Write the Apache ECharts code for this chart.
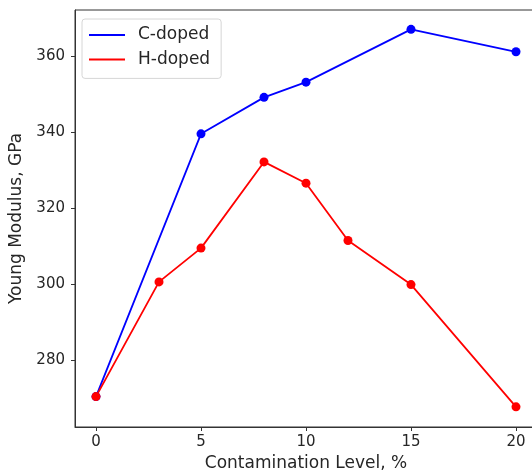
<!DOCTYPE html>
<html>
<head>
<meta charset="utf-8">
<script src="https://cdn.jsdelivr.net/npm/echarts@6/dist/echarts.min.js"></script>
<style>
html, body { margin: 0; padding: 0; background: #fff; }
#chart { width: 532px; height: 473px; }
</style>
</head>
<body>
<div id="chart"></div>
<script>
var xTicks = [0, 5, 10, 15, 20];
var yTicks = [280, 300, 320, 340, 360];
var cLevels = [0, 5, 8, 10, 15, 20];
var cValues = [270.3, 339.5, 349.1, 353.1, 367.0, 361.1];
var hLevels = [0, 3, 5, 8, 10, 12, 15, 20];
var hValues = [270.3, 300.5, 309.4, 332.1, 326.5, 311.4, 299.8, 267.6];

function pairs(xs, ys) {
	return xs.map(function (x, i) { return [x, ys[i]]; });
}

var font = 'DejaVu Sans';
var chart = echarts.init(document.getElementById('chart'));
var option = {
	animation : false,
	textStyle : { fontFamily : font },
	grid : {
		left : 75,
		top : 10,
		right : -5,
		bottom : 46,
		show : true,
		borderColor : '#333',
		borderWidth : 1,
		outerBoundsMode : 'none'
	},
	legend : {
		orient : 'vertical',
		left : 82,
		top : 19,
		padding : [4, 11, 7, 7],
		itemGap : 0.4,
		itemWidth : 36,
		itemHeight : 2,
		icon : 'rect',
		borderColor : '#d6d6d6',
		borderWidth : 1,
		borderRadius : 3,
		backgroundColor : 'rgba(255,255,255,0.8)',
		textStyle : {
			fontFamily : font,
			fontSize : 17,
			color : '#262626',
			lineHeight : 24,
			padding : [0, 0, 0, 8]
		},
		data : ['C-doped', 'H-doped']
	},
	xAxis : {
		type : 'value',
		min : -1,
		max : 21,
		name : 'Contamination Level, %',
		nameLocation : 'middle',
		nameGap : 28,
		nameTextStyle : { fontFamily : font, fontSize : 17, color : '#262626' },
		axisLine : { show : true, onZero : false, lineStyle : { color : '#333' } },
		axisTick : { show : true, length : 4, customValues : xTicks, lineStyle : { color : '#333' } },
		axisLabel : { customValues : xTicks, margin : 8, fontSize : 15, fontFamily : font, color : '#262626' },
		splitLine : { show : false }
	},
	yAxis : {
		type : 'value',
		min : 262.3,
		max : 372.1,
		name : 'Young Modulus, GPa',
		nameLocation : 'middle',
		nameGap : 47,
		nameTextStyle : { fontFamily : font, fontSize : 17, color : '#262626' },
		axisLine : { show : true, onZero : false, lineStyle : { color : '#333' } },
		axisTick : { show : true, length : 4, customValues : yTicks, lineStyle : { color : '#333' } },
		axisLabel : { customValues : yTicks, margin : 10, fontSize : 15, fontFamily : font, color : '#262626' },
		splitLine : { show : false }
	},
	series : [ {
		name : 'C-doped',
		type : 'line',
		data : pairs(cLevels, cValues),
		color : '#0000ff',
		symbol : 'circle',
		symbolSize : 9,
		lineStyle : { width : 1.8 }
	}, {
		name : 'H-doped',
		type : 'line',
		data : pairs(hLevels, hValues),
		color : '#ff0000',
		symbol : 'circle',
		symbolSize : 9,
		lineStyle : { width : 1.8 }
	} ]
};
chart.setOption(option);
</script>
</body>
</html>
